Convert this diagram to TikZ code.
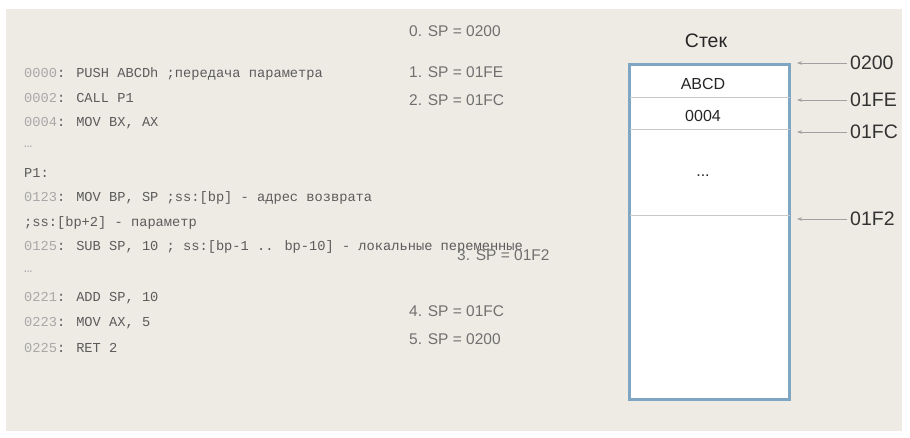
\documentclass[tikz,border=0pt]{standalone}
\usepackage{fontspec}
\setmainfont{Liberation Sans}
\newfontfamily\codefont{Liberation Mono}
\usetikzlibrary{arrows.meta}
\definecolor{bgbeige}{HTML}{EEEBE4}
\definecolor{stackblue}{HTML}{7FA6C2}
\definecolor{addrgrey}{HTML}{A8A8A8}
\definecolor{codegrey}{HTML}{5C5C5C}
\definecolor{spgrey}{HTML}{707070}
\definecolor{linegrey}{HTML}{C8C8C8}
\definecolor{arrgrey}{HTML}{A0A0A0}
\tikzset{
  codeline/.style={anchor=west,inner sep=0pt,font=\codefont\fontsize{13.7}{15}\selectfont,text=codegrey},
  splabel/.style={anchor=west,inner sep=0pt,font=\fontsize{15.5}{18}\selectfont,text=spgrey},
  addrlabel/.style={anchor=west,inner sep=3pt,font=\fontsize{19.5}{22}\selectfont,text=black!80},
  cellText/.style={inner sep=0pt,font=\fontsize{16}{18}\selectfont,text=black!85},
  ptr/.style={draw=arrgrey,line width=0.9pt,-{Stealth[length=5pt,width=3.5pt]}},
  sep/.style={draw=linegrey,line width=1pt}
}
\newcommand{\ad}[1]{\textcolor{addrgrey}{#1}}
\begin{document}
\begin{tikzpicture}[x=1pt,y=-1pt]
\useasboundingbox (0,0) rectangle (910,437);
\fill[white] (0,0) rectangle (910,437);
\fill[bgbeige] (6,9) rectangle (902,431);
% code
\node[codeline] (c1) at (24,74) {\ad{0000}: PUSH ABCDh ;передача параметра};
\node[codeline] (c2) at (24,98) {\ad{0002}: CALL P1};
\node[codeline] (c3) at (24,123) {\ad{0004}: MOV BX, AX};
\node[codeline,text=addrgrey] (c4) at (24,147) {…};
\node[codeline] (c5) at (24,173) {P1:};
\node[codeline] (c6) at (24,198) {\ad{0123}: MOV BP, SP ;ss:[bp] - адрес возврата};
\node[codeline] (c7) at (24,223) {;ss:[bp+2] - параметр};
\node[codeline] (c8) at (24,247) {\ad{0125}: SUB SP, 10 ; ss:[bp-1 .. bp-10] - локальные переменные};
\node[codeline,text=addrgrey] (c9) at (24,272) {…};
\node[codeline] (c10) at (24,298) {\ad{0221}: ADD SP, 10};
\node[codeline] (c11) at (24,323) {\ad{0223}: MOV AX, 5};
\node[codeline] (c12) at (24,348) {\ad{0225}: RET 2};
% SP labels
\node[splabel] (s0) at (409,31) {0. SP = 0200};
\node[splabel] (s1) at (409,72) {1. SP = 01FE};
\node[splabel] (s2) at (409,100) {2. SP = 01FC};
\node[splabel] (s3) at (457,255) {3. SP = 01F2};
\node[splabel] (s4) at (409,311) {4. SP = 01FC};
\node[splabel] (s5) at (409,339) {5. SP = 0200};
% stack
\node[font=\fontsize{19.5}{22}\selectfont,text=black!85,inner sep=0pt] (title) at (706,41) {Стек};
\draw[stackblue,line width=3pt,fill=white] (629,64) rectangle (789,399);
\coordinate (l1a) at (630,97); \coordinate (l1b) at (790,97);
\coordinate (l2a) at (630,129); \coordinate (l2b) at (790,129);
\coordinate (l3a) at (630,215); \coordinate (l3b) at (790,215);
\draw[sep] (l1a) -- (l1b);
\draw[sep] (l2a) -- (l2b);
\draw[sep] (l3a) -- (l3b);
\node[cellText] (abcd) at (703,84) {ABCD};
\node[cellText] (v4) at (703,116) {0004};
\node[cellText] (dots) at (703,176) {...};
% address labels and pointers
\node[addrlabel] (a0) at (847,63) {0200};
\node[addrlabel] (a1) at (847,100) {01FE};
\node[addrlabel] (a2) at (847,132) {01FC};
\node[addrlabel] (a3) at (847,219) {01F2};
\coordinate (t0) at (797,63);
\coordinate (t1) at (797,100);
\coordinate (t2) at (797,132);
\coordinate (t3) at (797,219);
\draw[ptr] (a0.west) -- (t0);
\draw[ptr] (a1.west) -- (t1);
\draw[ptr] (a2.west) -- (t2);
\draw[ptr] (a3.west) -- (t3);
\end{tikzpicture}
\end{document}
